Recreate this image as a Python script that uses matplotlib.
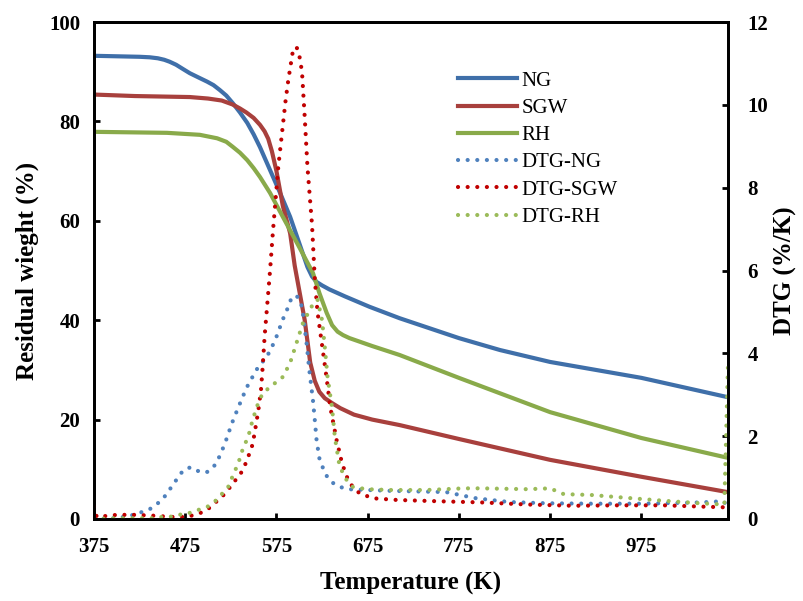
import matplotlib
matplotlib.use("Agg")
import matplotlib.pyplot as plt

plt.rcParams['font.family'] = ['Liberation Serif', 'DejaVu Serif']

# residual weight (%) vs temperature (K)
t_ng = [375, 400, 425, 436, 445, 452, 458, 465, 472, 480, 490, 499, 506, 513, 520, 527, 535, 543, 550, 557,
        568, 579, 590, 600, 609, 614, 619, 625, 633, 650, 677, 710, 775, 820, 875, 975, 1070]
w_ng = [93.2, 93.1, 93.0, 92.9, 92.7, 92.4, 92.0, 91.4, 90.6, 89.7, 88.8, 88.0, 87.3, 86.3, 85.2, 83.7, 81.8,
        79.7, 77.4, 74.8, 70.2, 65.6, 60.8, 55.5, 50.7, 48.8, 47.7, 47.0, 46.2, 44.8, 42.7, 40.4, 36.4, 34.0,
        31.6, 28.4, 24.5]

t_sgw = [375, 420, 480, 500, 515, 527, 535, 542, 550, 557, 562, 566, 570, 575, 582, 590, 595, 600, 606, 612,
         617, 622, 628, 637, 645, 660, 680, 710, 775, 875, 975, 1070]
w_sgw = [85.4, 85.1, 84.9, 84.6, 84.2, 83.4, 82.6, 81.8, 80.7, 79.3, 78.0, 76.5, 74.0, 70.0, 63.0, 57.5, 51.0,
         46.0, 40.0, 31.5, 27.8, 25.6, 24.3, 23.2, 22.3, 21.0, 20.0, 18.9, 16.1, 11.9, 8.5, 5.4]

t_rh = [375, 455, 491, 510, 520, 527, 535, 543, 550, 557, 568, 582, 600, 615, 622, 630, 636, 642, 648, 655,
        680, 710, 775, 875, 975, 1070]
w_rh = [77.9, 77.7, 77.3, 76.6, 75.9, 74.9, 73.7, 72.2, 70.6, 68.8, 65.6, 60.8, 54.7, 49.5, 45.5, 41.5, 39.0,
        37.7, 37.0, 36.4, 34.8, 33.0, 28.4, 21.5, 16.3, 12.3]

# DTG (%/K)
td_ng = [375, 400, 415, 425, 432, 438, 445, 451, 456, 462, 467, 473, 481, 489, 498, 505, 510, 514, 518, 521,
         526, 532, 538, 543, 548, 553, 558, 564, 570, 575, 580, 584, 588, 591, 597, 602, 604, 608, 611, 615,
         617, 619, 622, 626, 631, 637, 644, 653, 700, 740, 761, 776, 794, 830, 870, 920, 975, 1040, 1065, 1070]
d_ng = [0.0, 0.02, 0.08, 0.15, 0.2, 0.26, 0.38, 0.5, 0.65, 0.84, 1.0, 1.18, 1.25, 1.16, 1.12, 1.23, 1.38, 1.59,
        1.79, 1.98, 2.3, 2.63, 2.95, 3.2, 3.4, 3.6, 3.75, 3.9, 4.15, 4.4, 4.7, 4.93, 5.12, 5.31, 5.4, 5.2, 4.97,
        4.25, 3.6, 2.87, 2.4, 1.9, 1.47, 1.23, 1.0, 0.87, 0.78, 0.72, 0.68, 0.66, 0.65, 0.58, 0.5, 0.41, 0.38,
        0.37, 0.37, 0.4, 0.43, 0.3]

td_sgw = [375, 378, 400, 420, 440, 460, 477, 491, 499, 505, 515, 522, 527, 533, 538, 542, 546, 549, 552, 555,
          558, 560, 562, 565, 568, 571, 574, 577, 582, 585, 588, 593, 597, 600, 603, 606, 609, 614, 617, 620,
          625, 630, 634, 641, 646, 650, 655, 666, 681, 707, 750, 800, 850, 900, 950, 1000, 1040, 1070]
d_sgw = [0.3, 0.05, 0.1, 0.1, 0.08, 0.05, 0.05, 0.14, 0.22, 0.34, 0.53, 0.7, 0.87, 1.0, 1.18, 1.38, 1.62, 1.81,
         2.2, 2.6, 3.1, 3.7, 4.4, 5.2, 6.0, 6.9, 7.7, 8.5, 9.5, 10.1, 10.6, 11.3, 11.4, 11.2, 10.8, 9.7, 8.5,
         7.1, 5.8, 5.0, 4.2, 3.4, 2.7, 1.9, 1.43, 1.14, 0.87, 0.62, 0.5, 0.46, 0.43, 0.4, 0.35, 0.32, 0.33,
         0.33, 0.3, 0.28]

td_rh = [375, 400, 440, 450, 458, 467, 476, 483, 492, 499, 505, 512, 516, 522, 525, 528, 532, 535, 537, 540,
         544, 549, 555, 560, 571, 582, 590, 597, 604, 612, 616, 620, 625, 628, 631, 636, 639, 641, 644, 648,
         652, 659, 674, 700, 740, 780, 800, 850, 875, 890, 920, 965, 1000, 1039, 1066, 1070]
d_rh = [0.0, 0.02, 0.02, 0.05, 0.05, 0.1, 0.12, 0.17, 0.24, 0.29, 0.39, 0.5, 0.63, 0.77, 0.92, 1.1, 1.28, 1.47,
        1.62, 1.79, 1.98, 2.4, 2.8, 3.04, 3.24, 3.43, 3.77, 4.25, 4.73, 5.07, 5.22, 5.3, 4.8, 4.15, 3.43, 2.68,
        1.98, 1.71, 1.3, 1.1, 0.94, 0.77, 0.72, 0.7, 0.7, 0.74, 0.74, 0.72, 0.74, 0.6, 0.58, 0.5, 0.44, 0.38,
        0.35, 3.77]

c_ng, c_sgw, c_rh = '#3F6FA9', '#A8403D', '#89AA4A'
cd_ng, cd_sgw, cd_rh = '#4F81BD', '#C00000', '#9BBB59'
dots = (0, (0.01, 2.3))

fig = plt.figure(figsize=(8.04, 6.01), dpi=100)
ax = fig.add_axes([94 / 804, 1 - 519 / 601, (728 - 94) / 804, (519 - 22) / 601])
ax2 = ax.twinx()

l1, = ax.plot(t_ng, w_ng, color=c_ng, lw=3, label='NG')
l2, = ax.plot(t_sgw, w_sgw, color=c_sgw, lw=3, label='SGW')
l3, = ax.plot(t_rh, w_rh, color=c_rh, lw=3, label='RH')
l4, = ax2.plot(td_ng, d_ng, color=cd_ng, lw=3, ls=dots, dash_capstyle='round', label='DTG-NG')
l5, = ax2.plot(td_sgw, d_sgw, color=cd_sgw, lw=3, ls=dots, dash_capstyle='round', label='DTG-SGW')
l6, = ax2.plot(td_rh, d_rh, color=cd_rh, lw=3, ls=dots, dash_capstyle='round', label='DTG-RH')

ax.set_xlim(375, 1070)
ax.set_ylim(0, 100)
ax2.set_ylim(0, 12)
ax.set_xticks([375, 475, 575, 675, 775, 875, 975])
ax.set_yticks([0, 20, 40, 60, 80, 100])
ax2.set_yticks([0, 2, 4, 6, 8, 10, 12])

for a in (ax, ax2):
    for s in a.spines.values():
        s.set_linewidth(2)
    a.tick_params(direction='in', width=2, length=4.5, labelsize=15)
    for lab in a.get_xticklabels() + a.get_yticklabels():
        lab.set_fontweight('bold')
ax.tick_params(axis='y', pad=10)
ax.tick_params(axis='x', pad=13)
ax2.tick_params(axis='y', pad=14)

ax.set_xlabel('Temperature (K)', fontsize=18, fontweight='bold', labelpad=11)
ax.set_ylabel('Residual wieght (%)', fontsize=18, fontweight='bold', labelpad=7)
ax2.set_ylabel('DTG (%/K)', fontsize=18, fontweight='bold', labelpad=4)

ax2.legend(handles=[l1, l2, l3, l4, l5, l6], loc='upper left', bbox_to_anchor=(458 / 804, 1 - 71 / 601),
           bbox_transform=fig.transFigure, frameon=False, fontsize=15, handlelength=2.85,
           handletextpad=0.2, labelspacing=0.37, borderpad=0, borderaxespad=0)

fig.savefig('out.png', dpi=100)
